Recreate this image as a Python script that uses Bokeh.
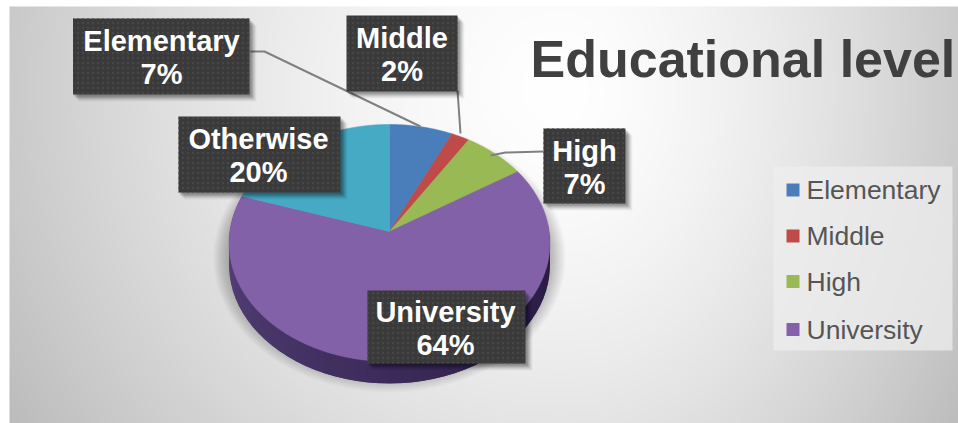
import numpy as np
from bokeh.embed import file_html
from bokeh.models import Range1d
from bokeh.plotting import figure
from bokeh.resources import INLINE
from bokeh.core.properties import value

# Chart content
title_text = "Educational level"
categories = ["Elementary", "Middle", "High", "University", "Otherwise"]
shares = [7, 2, 7, 64, 20]
slice_colors = ["#4a7ebb", "#be4b48", "#98b954", "#8361a8", "#46aac5"]
legend_names = ["Elementary", "Middle", "High", "University"]

W, H = 958, 423
ink = "#404040"


def flip(y):
    """Screen-style y (down from the top) to the plot's upward y."""
    return H - np.asarray(y, dtype=float)


p = figure(width=W, height=H, output_backend="svg", toolbar_location=None,
           x_range=Range1d(0, W), y_range=Range1d(0, H), min_border=0,
           outline_line_color=None, border_fill_color="white")
p.axis.visible = False
p.grid.visible = False

# Backdrop: soft off-centre radial shading
left, top = 9, 6
xs, ys = np.meshgrid(np.arange(left, W) + 0.5, np.arange(H - 1, top - 1, -1) + 0.5)
cx_bg, cy_bg = 560.0, 90.0
ax = np.where(xs < cx_bg, 640.0, 470.0)
dist = np.hypot((xs - cx_bg) / ax, (ys - cy_bg) / 620.0)
shade = np.clip(255 - 66 * dist ** 1.5, 0, 255).astype(np.uint32)
bg = (255 << 24) | (shade << 16) | (shade << 8) | shade
p.image_rgba(image=[bg.astype(np.uint32)], x=left, y=0, dw=W - left, dh=H - top)

# Perspective disc: apex of the pie and its projected radii
cx, cy = 389.0, 231.0
rx, ry, tilt = 159.7, 117.4, 0.097
depth = 22.0


def rim(frac):
    th = 2 * np.pi * np.asarray(frac, dtype=float)
    w = 1 + tilt * np.cos(th)
    return cx + rx * np.sin(th) / w, cy - ry * np.cos(th) / w


# Drop shadow underneath the disc, feathered over many thin layers
fr = np.linspace(0, 1, 181)
sx, sy = rim(fr)
mx, my = sx.mean(), sy.mean()
for grow in range(16, 0, -1):
    scale_x = 1 + grow / 160.5
    scale_y = 1 + grow / 118.5
    p.patch(mx + (sx - mx) * scale_x, flip(my + 14 + (sy - my) * scale_y),
            fill_color="#000000", fill_alpha=0.016, line_color=None)

# Side wall of the disc, shaded from left to right; each band overlaps the next
fr = np.linspace(0.24, 0.80, 57)
rx_pts, ry_pts = rim(fr)
for i in range(len(fr) - 1):
    u = i / (len(fr) - 2)  # 0 at right edge, 1 at left edge
    c0 = np.array([0x2a, 0x1b, 0x45])
    c1 = np.array([0x5c, 0x47, 0x80])
    col = c0 + (c1 - c0) * u ** 1.3
    hexcol = "#%02x%02x%02x" % tuple(int(v) for v in col)
    j = min(i + 2, len(fr) - 1)
    qx = [rx_pts[i], rx_pts[j], rx_pts[j], rx_pts[i]]
    qy = [ry_pts[i], ry_pts[j], ry_pts[j] + depth, ry_pts[i] + depth]
    p.patch(qx, flip(qy), fill_color=hexcol, line_color=None)

# Top surface of the pie, one wedge per category
cum = np.cumsum([0] + shares) / sum(shares)
for i, name in enumerate(categories):
    fr = np.linspace(cum[i], cum[i + 1], max(3, shares[i] * 3))
    ex, ey = rim(fr)
    p.patch(np.r_[cx, ex], flip(np.r_[cy, ey]), fill_color=slice_colors[i],
            line_color=slice_colors[i], line_width=0.5)

# Leader lines
leaders = [
    ([250, 264, 420], [51, 51, 126]),
    ([457, 460], [90, 133]),
    ([543, 505, 490], [151, 152, 155]),
]
for lx, ly in leaders:
    p.line(lx, flip(ly), line_color="#808080", line_width=2)

# Callout boxes (left, right, top, bottom) with a text centre for each line
boxes = [
    ("Elementary", 72.5, 249, 18, 94, 161),
    ("Middle", 346, 457, 15, 91, 401.5),
    ("Otherwise", 178, 340, 116, 192, 258),
    ("High", 543, 625, 128, 203, 584),
    ("University", 367, 525, 290, 363, 445),
]
for name, l, r, t, b, tc in boxes:
    for off, alpha in [(7, 0.04), (6, 0.05), (5, 0.07), (4, 0.09), (3, 0.10), (2, 0.12)]:
        p.quad(left=l + off - 1, right=r + off, top=flip(t + off), bottom=flip(b + off),
               fill_color="#000000", fill_alpha=alpha, line_color=None)
    p.quad(left=l, right=r, top=flip(t), bottom=flip(b), fill_color="#3a3a3a",
           line_color=None, hatch_pattern="dot", hatch_color="#474747",
           hatch_scale=5, hatch_weight=1)
    i = categories.index(name)
    lines = [name, f"{shares[i]}%"]
    for k, s in enumerate(lines):
        yc = (t + b) / 2 - 16 + 33 * k
        p.text([tc], flip([yc + 0.5]), text=[s], text_align="center", text_baseline="middle",
               text_color="white", text_font=value("Liberation Sans"),
               text_font_style="bold", text_font_size="29px")

# Title
p.text([530], flip([58]), text=[title_text], text_align="left", text_baseline="middle",
       text_color=ink, text_font=value("Liberation Sans"), text_font_style="bold",
       text_font_size="52px")

# Legend panel
p.quad(left=773, right=952, top=flip(166), bottom=flip(350), fill_color="#eeeeee",
       fill_alpha=0.75, line_color=None)
legend_y = [189.5, 235.5, 281, 329]
for name, yc in zip(legend_names, legend_y):
    col = slice_colors[categories.index(name)]
    p.quad(left=786, right=799, top=flip(yc - 6.5), bottom=flip(yc + 6.5),
           fill_color=col, line_color=None)
    p.text([806], flip([yc]), text=[name], text_align="left", text_baseline="middle",
           text_color="#555555", text_font=value("Liberation Sans"), text_font_size="26.5px")

open("out.html", "w").write(file_html(p, INLINE))
